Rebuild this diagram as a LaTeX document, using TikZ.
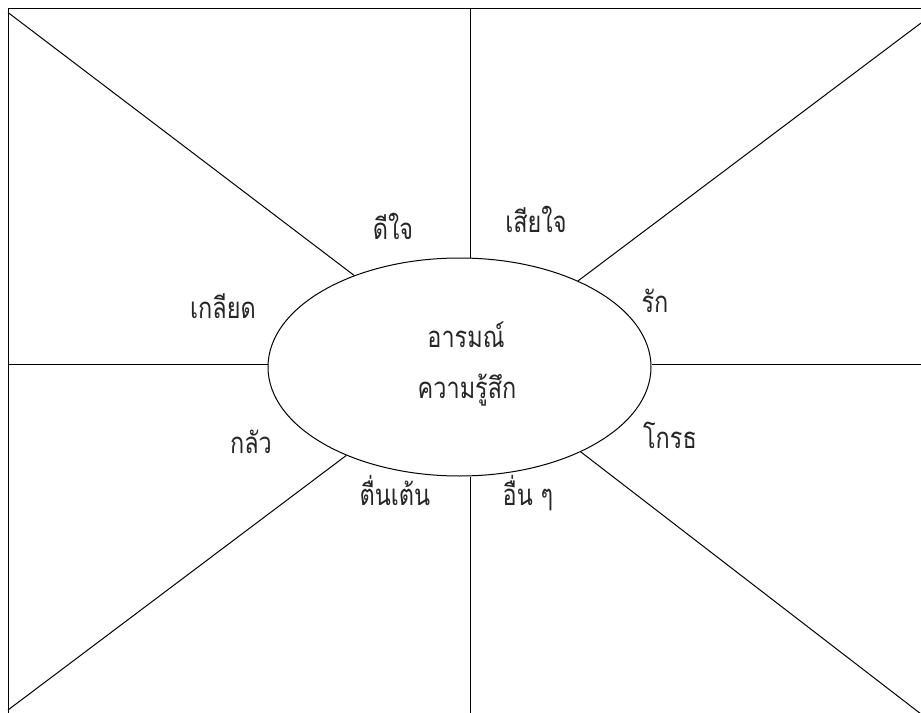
\documentclass[tikz,border=0pt]{standalone}
\usepackage{fontspec}
\newfontfamily\thaifont[Script=Thai,FakeStretch=0.8]{Loma}
\usetikzlibrary{shapes.geometric}
\begin{document}
\begin{tikzpicture}[x=0.75pt,y=-0.75pt,
  line width=0.75pt,
  lbl/.style={font=\thaifont\fontsize{22}{26}\selectfont, text=black!85, anchor=base, inner sep=0pt},
  hub/.style={draw, ellipse, minimum width=287.25pt, minimum height=163.5pt, inner sep=0pt}]
\useasboundingbox (0,0) rectangle (921,713);
\clip (0,0) rectangle (921,713);
% frame (partly outside the picture)
\draw (930,9) -- (8,9) -- (8,720);
\node[hub] (e) at (459.5,367) {};
% outer end points
\coordinate (t) at (470,9);
\coordinate (b) at (470,713);
\coordinate (l) at (8,364);
\coordinate (r) at (921,364);
\coordinate (tl) at (8,12.5);
\coordinate (tr) at (921,23);
\coordinate (bl) at (8,710);
\coordinate (br) at (921,714);
\draw (t) -- (t |- e.north);
\draw (b) -- (b |- e.south);
\draw (l) -- (l -| e.west);
\draw (r) -- (r -| e.east);
\draw (tl) -- (e.139.8);
\draw (tr) -- (e.36);
\draw (bl) -- (e.218.2);
\draw (br) -- (e.-35);
% labels
\node[lbl] (n1) at (466,347) {อารมณ์};
\node[lbl] (n2) at (467,398) {ความรู้สึก};
\node[lbl] (a1) at (393,239) {ดีใจ};
\node[lbl] (a2) at (536,233) {เสียใจ};
\node[lbl] (a3) at (223,318) {เกลียด};
\node[lbl] (a4) at (655,312) {รัก};
\node[lbl] (a5) at (251,453) {กลัว};
\node[lbl] (a6) at (670,448) {โกรธ};
\node[lbl] (a7) at (395,505) {ตื่นเต้น};
\node[lbl] (a8) at (528,505) {อื่น ๆ};
\end{tikzpicture}
\end{document}
